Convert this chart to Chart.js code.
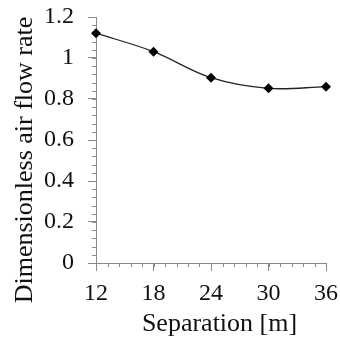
<!DOCTYPE html>
<html>
<head>
<meta charset="utf-8">
<script src="https://cdn.jsdelivr.net/npm/chart.js@4/dist/chart.umd.min.js"></script>
<style>
  html, body { margin: 0; padding: 0; background: #fff; }
  #wrap { width: 340px; height: 338px; }
</style>
</head>
<body>
<div id="wrap"><canvas id="chart" width="340" height="338"></canvas></div>
<script>
// data
const separation = [12, 18, 24, 30, 36];
const flowRate = [1.121, 1.031, 0.904, 0.852, 0.860];
const xTicks = [12, 18, 24, 30, 36];
const yTicks = [0, 0.2, 0.4, 0.6, 0.8, 1, 1.2];

const xTitle = "Separation [m]";
const yTitle = "Dimensionless air flow rate";

const AXIS = "#8a8a8a";
const FONT = "'Liberation Serif', 'Times New Roman', serif";

// minor tick marks + axis titles (titles are offset from the axis centre in the original)
const extras = {
  id: "extras",
  beforeDatasetsDraw(chart) {
    const { ctx, chartArea: a, scales: { x, y } } = chart;
    ctx.save();
    ctx.strokeStyle = AXIS;
    ctx.lineWidth = 1;
    ctx.beginPath();
    for (let i = 0; i <= 20; i++) {
      const px = Math.round(x.getPixelForValue(12 + i * 1.2)) + 0.5;
      ctx.moveTo(px, a.bottom);
      ctx.lineTo(px, a.bottom + 4);
    }
    for (let i = 0; i <= 30; i++) {
      const py = Math.round(y.getPixelForValue(i * 0.04)) + 0.5;
      ctx.moveTo(a.left - 4, py);
      ctx.lineTo(a.left, py);
    }
    ctx.stroke();

    ctx.fillStyle = "#111";
    ctx.font = "26px " + FONT;
    ctx.textAlign = "center";
    ctx.textBaseline = "alphabetic";
    ctx.fillText(xTitle, (a.left + a.right) / 2 + 8.5, 330.5);

    ctx.translate(32, (a.top + a.bottom) / 2 + 20);
    ctx.rotate(-Math.PI / 2);
    ctx.fillText(yTitle, 0, 0);
    ctx.restore();
  }
};

new Chart(document.getElementById("chart"), {
  type: "line",
  data: {
    datasets: [{
      data: separation.map((s, i) => ({ x: s, y: flowRate[i] })),
      borderColor: "#222",
      borderWidth: 1.3,
      tension: 0.35,
      pointStyle: "rectRot",
      pointRadius: 5,
      pointBackgroundColor: "#000",
      pointBorderColor: "#000",
      pointBorderWidth: 0,
      clip: false
    }]
  },
  options: {
    responsive: false,
    animation: false,
    devicePixelRatio: 1,
    layout: { padding: { top: 17, right: 14, left: 0, bottom: 0 } },
    plugins: { legend: { display: false }, tooltip: { enabled: false } },
    scales: {
      x: {
        type: "linear",
        min: 12, max: 36,
        afterBuildTicks: s => { s.ticks = xTicks.map(v => ({ value: v })); },
        afterFit: s => { s.height = 75; s.paddingLeft = 0; s.paddingRight = 0; },
        border: { color: AXIS, width: 1 },
        grid: { drawOnChartArea: false, drawTicks: true, tickLength: 8, tickColor: AXIS },
        ticks: { color: "#111", font: { family: FONT, size: 24 }, padding: 8, maxRotation: 0, callback: v => String(v) }
      },
      y: {
        min: 0, max: 1.2,
        afterBuildTicks: s => { s.ticks = yTicks.map(v => ({ value: v })); },
        afterFit: s => { s.width = 96; s.paddingTop = 0; s.paddingBottom = 0; },
        border: { color: AXIS, width: 1 },
        grid: { drawOnChartArea: false, drawTicks: true, tickLength: 8, tickColor: AXIS },
        ticks: { color: "#111", font: { family: FONT, size: 24 }, padding: 14, callback: v => String(v) }
      }
    }
  },
  plugins: [extras]
});
</script>
</body>
</html>
